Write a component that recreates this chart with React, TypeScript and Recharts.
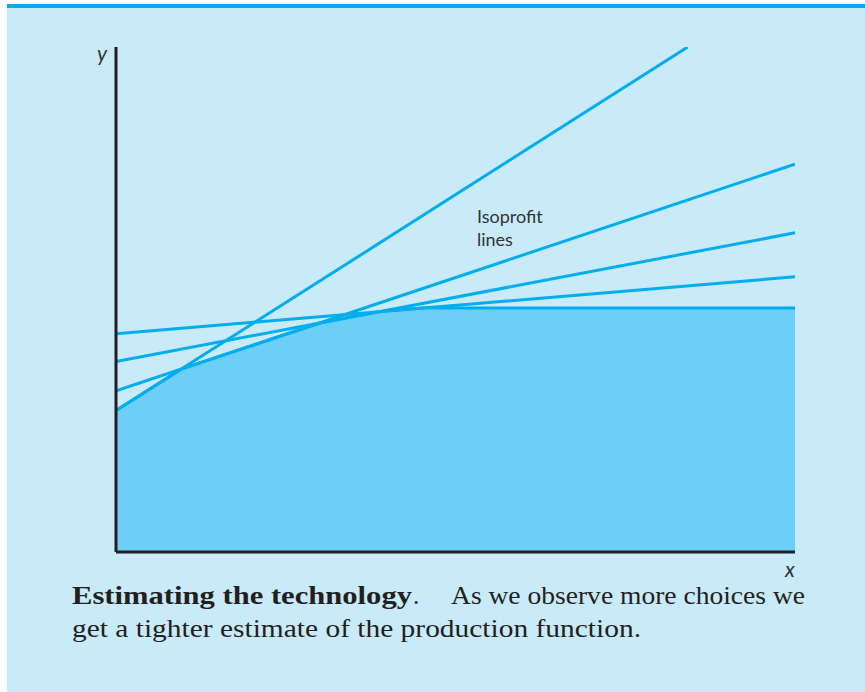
import React from 'react'
import { ComposedChart, Line, Area, XAxis, YAxis, ReferenceLine } from 'recharts'

// isoprofit lines, [x, y] in chart units (0..100 on both axes)
const isoprofit1 = [[0, 28], [84.2, 100]]
const isoprofit2 = [[0, 31.9], [100, 76.8]]
const isoprofit3 = [[0, 37.7], [100, 63.2]]
const isoprofit4 = [[0, 43.2], [100, 54.5]]
// lower envelope = estimated technology (shaded)
const frontier = [[0, 28], [9.6, 36.2], [29.9, 45.3], [38.7, 47.6], [45.1, 48.3], [100, 48.3]]

const series: { key: string; pts: number[][] }[] = [
  { key: 'l1', pts: isoprofit1 },
  { key: 'l2', pts: isoprofit2 },
  { key: 'l3', pts: isoprofit3 },
  { key: 'l4', pts: isoprofit4 },
  { key: 'env', pts: frontier },
]

const xs = Array.from(new Set(series.flatMap(s => s.pts.map(p => p[0])))).sort((a, b) => a - b)
const rows = xs.map(x => {
  const row: Record<string, number | null> = { x }
  series.forEach(s => {
    const hit = s.pts.find(p => p[0] === x)
    row[s.key] = hit ? hit[1] : null
  })
  return row
})

const BLUE = '#00aeef'
const FILL = '#6ccff6'
const INK = '#231f20'

export default function App() {
  return (
    <div style={{ position: 'absolute', left: 0, top: 0, width: 865, height: 692, background: '#fff', overflow: 'hidden' }}>
      <div style={{ position: 'absolute', left: 7, top: 4, width: 858, height: 684, borderTop: `4px solid ${BLUE}`, background: '#c8eaf9' }} />

      <div style={{ position: 'absolute', left: 0, top: 0 }}>
        <ComposedChart width={865} height={692} data={rows} margin={{ top: 47, right: 70, bottom: 140, left: 116 }}>
          <XAxis dataKey="x" type="number" domain={[0, 100]} allowDataOverflow hide />
          <YAxis type="number" domain={[0, 100]} allowDataOverflow hide />
          <Area
            dataKey="env"
            type="linear"
            connectNulls
            fill={FILL}
            fillOpacity={1}
            stroke={BLUE}
            strokeWidth={3}
            isAnimationActive={false}
          />
          {['l1', 'l2', 'l3', 'l4'].map(k => (
            <Line
              key={k}
              dataKey={k}
              type="linear"
              connectNulls
              dot={false}
              activeDot={false}
              stroke={BLUE}
              strokeWidth={3}
              isAnimationActive={false}
            />
          ))}
          <ReferenceLine x={0} stroke={INK} strokeWidth={3} ifOverflow="visible" />
          <ReferenceLine y={0} stroke={INK} strokeWidth={3} ifOverflow="visible" />
        </ComposedChart>
      </div>

      <svg width={865} height={692} style={{ position: 'absolute', left: 0, top: 0, pointerEvents: 'none' }}>
        <text x={97} y={61} fontFamily="Lato" fontStyle="italic" fontSize={21} fill="#333">y</text>
        <text x={785} y={577} fontFamily="Lato" fontStyle="italic" fontSize={21} fill="#333">x</text>
        <text x={477} y={223} fontFamily="Lato" fontSize={18} fill="#333">Isoprofit</text>
        <text x={477} y={246} fontFamily="Lato" fontSize={18} fill="#333">lines</text>

        <g fontFamily="Liberation Serif" fontSize={25} fill={INK}>
          <text x={72} y={604} fontWeight="bold" textLength={340} lengthAdjust="spacingAndGlyphs">Estimating the technology</text>
          <text x={413} y={604}>.</text>
          <text x={451} y={604} textLength={354} lengthAdjust="spacingAndGlyphs">As we observe more choices we</text>
          <text x={72} y={637} textLength={569} lengthAdjust="spacingAndGlyphs">get a tighter estimate of the production function.</text>
        </g>
      </svg>
    </div>
  )
}
